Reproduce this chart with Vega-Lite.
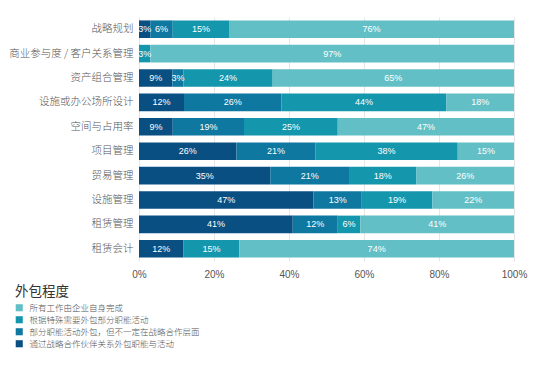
{
  "$schema": "https://vega.github.io/schema/vega-lite/v6.json",
  "width": 375,
  "height": 244,
  "autosize": {"type": "none"},
  "padding": {"left": 139, "top": 17, "right": 24, "bottom": 106},
  "background": "white",
  "data": {
    "values": [
      {"item": "战略规划", "type": "通过战略合作伙伴关系外包职能与活动", "v": 3},
      {"item": "战略规划", "type": "部分职能活动外包，但不一定在战略合作层面", "v": 6},
      {"item": "战略规划", "type": "根据特殊需要外包部分职能活动", "v": 15},
      {"item": "战略规划", "type": "所有工作由企业自身完成", "v": 76},
      {"item": "商业参与度 / 客户关系管理", "type": "根据特殊需要外包部分职能活动", "v": 3},
      {"item": "商业参与度 / 客户关系管理", "type": "所有工作由企业自身完成", "v": 97},
      {"item": "资产组合管理", "type": "通过战略合作伙伴关系外包职能与活动", "v": 9},
      {"item": "资产组合管理", "type": "部分职能活动外包，但不一定在战略合作层面", "v": 3},
      {"item": "资产组合管理", "type": "根据特殊需要外包部分职能活动", "v": 24},
      {"item": "资产组合管理", "type": "所有工作由企业自身完成", "v": 65},
      {"item": "设施或办公场所设计", "type": "通过战略合作伙伴关系外包职能与活动", "v": 12},
      {"item": "设施或办公场所设计", "type": "部分职能活动外包，但不一定在战略合作层面", "v": 26},
      {"item": "设施或办公场所设计", "type": "根据特殊需要外包部分职能活动", "v": 44},
      {"item": "设施或办公场所设计", "type": "所有工作由企业自身完成", "v": 18},
      {"item": "空间与占用率", "type": "通过战略合作伙伴关系外包职能与活动", "v": 9},
      {"item": "空间与占用率", "type": "部分职能活动外包，但不一定在战略合作层面", "v": 19},
      {"item": "空间与占用率", "type": "根据特殊需要外包部分职能活动", "v": 25},
      {"item": "空间与占用率", "type": "所有工作由企业自身完成", "v": 47},
      {"item": "项目管理", "type": "通过战略合作伙伴关系外包职能与活动", "v": 26},
      {"item": "项目管理", "type": "部分职能活动外包，但不一定在战略合作层面", "v": 21},
      {"item": "项目管理", "type": "根据特殊需要外包部分职能活动", "v": 38},
      {"item": "项目管理", "type": "所有工作由企业自身完成", "v": 15},
      {"item": "贸易管理", "type": "通过战略合作伙伴关系外包职能与活动", "v": 35},
      {"item": "贸易管理", "type": "部分职能活动外包，但不一定在战略合作层面", "v": 21},
      {"item": "贸易管理", "type": "根据特殊需要外包部分职能活动", "v": 18},
      {"item": "贸易管理", "type": "所有工作由企业自身完成", "v": 26},
      {"item": "设施管理", "type": "通过战略合作伙伴关系外包职能与活动", "v": 47},
      {"item": "设施管理", "type": "部分职能活动外包，但不一定在战略合作层面", "v": 13},
      {"item": "设施管理", "type": "根据特殊需要外包部分职能活动", "v": 19},
      {"item": "设施管理", "type": "所有工作由企业自身完成", "v": 22},
      {"item": "租赁管理", "type": "通过战略合作伙伴关系外包职能与活动", "v": 41},
      {"item": "租赁管理", "type": "部分职能活动外包，但不一定在战略合作层面", "v": 12},
      {"item": "租赁管理", "type": "根据特殊需要外包部分职能活动", "v": 6},
      {"item": "租赁管理", "type": "所有工作由企业自身完成", "v": 41},
      {"item": "租赁会计", "type": "通过战略合作伙伴关系外包职能与活动", "v": 12},
      {"item": "租赁会计", "type": "根据特殊需要外包部分职能活动", "v": 15},
      {"item": "租赁会计", "type": "所有工作由企业自身完成", "v": 74}
    ]
  },
  "transform": [
    {"calculate": "indexof(['通过战略合作伙伴关系外包职能与活动','部分职能活动外包，但不一定在战略合作层面','根据特殊需要外包部分职能活动','所有工作由企业自身完成'], datum.type)", "as": "ord"},
    {"stack": "v", "groupby": ["item"], "sort": [{"field": "ord", "order": "ascending"}], "offset": "normalize", "as": ["x0", "x1"]},
    {"calculate": "(datum.x0 + datum.x1) / 2", "as": "xm"},
    {"calculate": "datum.v + '%'", "as": "lab"}
  ],
  "encoding": {
    "y": {
      "field": "item", "type": "nominal",
      "sort": ["战略规划", "商业参与度 / 客户关系管理", "资产组合管理", "设施或办公场所设计", "空间与占用率", "项目管理", "贸易管理", "设施管理", "租赁管理", "租赁会计"],
      "scale": {"paddingInner": 0.28, "paddingOuter": 0.14},
      "axis": {"title": null, "domain": false, "ticks": false, "labelPadding": 6, "labelFontSize": 10.5, "labelColor": "#555", "labelFont": "Noto Sans CJK SC", "labelFontWeight": 300, "labelLimit": 200}
    }
  },
  "layer": [
    {
      "mark": {"type": "bar"},
      "encoding": {
        "x": {
          "field": "x0", "type": "quantitative",
          "scale": {"domain": [0, 1], "nice": false},
          "axis": {"title": null, "format": ".0%", "values": [0, 0.2, 0.4, 0.6, 0.8, 1], "domain": false, "ticks": false, "labelPadding": 8, "labelFontSize": 10, "labelColor": "#555", "labelFont": "Liberation Sans", "gridColor": "#e6e6e6", "labelFlush": false}
        },
        "x2": {"field": "x1"},
        "color": {
          "field": "type", "type": "nominal",
          "scale": {
            "domain": ["所有工作由企业自身完成", "根据特殊需要外包部分职能活动", "部分职能活动外包，但不一定在战略合作层面", "通过战略合作伙伴关系外包职能与活动"],
            "range": ["#62bfc6", "#1496ad", "#0f78a0", "#0a4f82"]
          },
          "legend": {
            "title": "外包程度",
            "orient": "none",
            "legendX": -124,
            "legendY": 268,
            "padding": 0,
            "titleFontSize": 13.5,
            "titleFontWeight": "normal",
            "titleColor": "#333",
            "titleFont": "Noto Sans CJK SC",
            "titlePadding": 5,
            "symbolType": "square",
            "symbolSize": 50,
            "symbolStrokeWidth": 0,
            "labelFontSize": 8.5,
            "labelColor": "#555",
            "labelFont": "Noto Sans CJK SC",
            "labelFontWeight": 300,
            "labelOffset": 6,
            "rowPadding": 3,
            "labelLimit": 400
          }
        }
      }
    },
    {
      "mark": {"type": "text", "color": "white", "fontSize": 9, "font": "Liberation Sans", "baseline": "middle", "align": "center"},
      "encoding": {
        "x": {"field": "xm", "type": "quantitative"},
        "text": {"field": "lab"}
      }
    }
  ],
  "config": {"view": {"stroke": null}}
}
